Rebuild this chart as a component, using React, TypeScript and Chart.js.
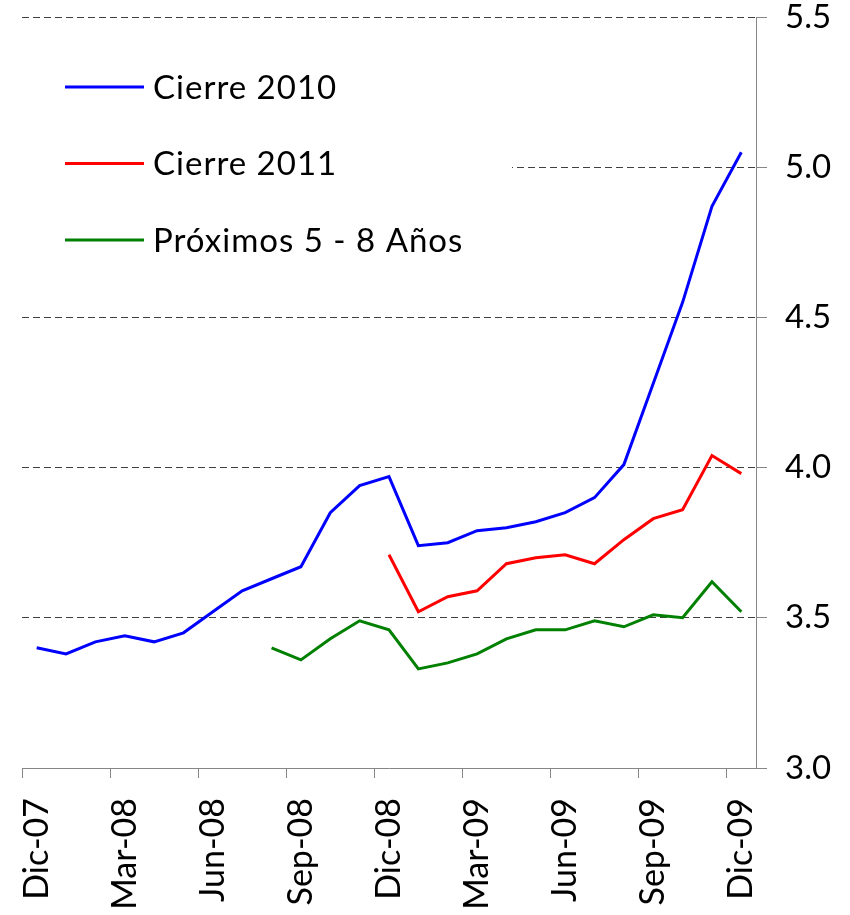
import React, { useEffect, useRef } from "react";
import { Chart, registerables } from "chart.js";

Chart.register(...registerables);

const months = [
  "Dic-07", "Ene-08", "Feb-08", "Mar-08", "Abr-08", "May-08", "Jun-08", "Jul-08", "Ago-08",
  "Sep-08", "Oct-08", "Nov-08", "Dic-08", "Ene-09", "Feb-09", "Mar-09", "Abr-09", "May-09",
  "Jun-09", "Jul-09", "Ago-09", "Sep-09", "Oct-09", "Nov-09", "Dic-09",
];

const cierre2010 = [
  3.40, 3.38, 3.42, 3.44, 3.42, 3.45, 3.52, 3.59, 3.63, 3.67, 3.85, 3.94, 3.97,
  3.74, 3.75, 3.79, 3.80, 3.82, 3.85, 3.90, 4.01, 4.28, 4.55, 4.87, 5.05,
];

const cierre2011 = [
  null, null, null, null, null, null, null, null, null, null, null, null,
  3.71, 3.52, 3.57, 3.59, 3.68, 3.70, 3.71, 3.68, 3.76, 3.83, 3.86, 4.04, 3.98,
];

const proximos = [
  null, null, null, null, null, null, null, null,
  3.40, 3.36, 3.43, 3.49, 3.46, 3.33, 3.35, 3.38, 3.43, 3.46, 3.46, 3.49, 3.47,
  3.51, 3.50, 3.62, 3.52,
];

const seriesNames = ["Cierre 2010", "Cierre 2011", "Próximos 5 - 8 Años"];
const seriesColors = ["#0000FF", "#FF0000", "#008000"];

const yMin = 3.0;
const yMax = 5.5;
const yStep = 0.5;
const labelEvery = 3;

const FONT = "Lato, 'Open Sans', sans-serif";

const boxLegend = {
  id: "boxLegend",
  afterDraw(chart: any) {
    const { ctx, chartArea } = chart;
    ctx.save();
    ctx.fillStyle = "#ffffff";
    ctx.fillRect(chartArea.left - 2, chartArea.top + 20, 492, 262);
    chart.data.datasets.forEach((ds: any, i: number) => {
      const y = chartArea.top + 70 + i * 76.5;
      const x0 = chartArea.left + 43;
      ctx.strokeStyle = ds.borderColor;
      ctx.lineWidth = 3;
      ctx.beginPath();
      ctx.moveTo(x0, y);
      ctx.lineTo(x0 + 79, y);
      ctx.stroke();
      ctx.fillStyle = "#000";
      ctx.font = `33px ${FONT}`;
      (ctx as any).letterSpacing = "1px";
      ctx.textBaseline = "middle";
      ctx.textAlign = "left";
      ctx.fillText(ds.label, x0 + 88, y + 1);
    });
    ctx.restore();
  },
};

export default function App() {
  const canvasRef = useRef<HTMLCanvasElement | null>(null);

  useEffect(() => {
    if (!canvasRef.current) return;
    const data = [cierre2010, cierre2011, proximos];
    const chart = new Chart(canvasRef.current, {
      type: "line",
      data: {
        labels: months,
        datasets: data.map((d, i) => ({
          label: seriesNames[i],
          data: d,
          borderColor: seriesColors[i],
          backgroundColor: seriesColors[i],
          borderWidth: 3,
          pointRadius: 0,
          tension: 0,
          spanGaps: false,
          fill: false,
        })),
      },
      options: {
        animation: false,
        responsive: true,
        maintainAspectRatio: false,
        layout: { padding: { left: 22, top: 0, right: 0, bottom: 0 } },
        plugins: {
          legend: { display: false },
          tooltip: { enabled: false },
        },
        scales: {
          x: {
            type: "category",
            offset: true,
            grid: {
              offset: true,
              drawOnChartArea: false,
              drawTicks: true,
              tickLength: 10,
              color: (c: any) => (c.index % labelEvery === 0 ? "#868686" : "rgba(0,0,0,0)"),
              tickColor: (c: any) => (c.index % labelEvery === 0 ? "#868686" : "rgba(0,0,0,0)"),
            },
            border: { display: true, color: "#868686", width: 1 },
            ticks: {
              autoSkip: false,
              maxRotation: 90,
              minRotation: 90,
              padding: 20,
              color: "#000",
              font: { family: FONT, size: 34 },
              callback: (_v: any, i: number) => (i % labelEvery === 0 ? months[i] : ""),
            },
            afterFit: (s: any) => {
              s.height = 147;
            },
          },
          y: {
            position: "right",
            min: yMin,
            max: yMax,
            grid: {
              color: (c: any) => (c.tick && c.tick.value === yMin ? "rgba(0,0,0,0)" : "#404040"),
              tickColor: "#868686",
              tickBorderDash: [],
              tickLength: 11,
              lineWidth: 1,
            },
            border: { display: true, color: "#868686", width: 1, dash: [7, 4] },
            ticks: {
              stepSize: yStep,
              padding: 18,
              color: "#000",
              font: { family: FONT, size: 33 },
              callback: (v: any) => Number(v).toFixed(1),
            },
            afterFit: (s: any) => {
              s.width = 94;
              s.paddingTop = 17;
              s.paddingBottom = 0;
            },
          },
        },
      } as any,
      plugins: [boxLegend],
    });
    return () => chart.destroy();
  }, []);

  return (
    <div style={{ position: "absolute", left: 0, top: 0, width: 850, height: 915, background: "#fff" }}>
      <canvas ref={canvasRef} />
    </div>
  );
}
